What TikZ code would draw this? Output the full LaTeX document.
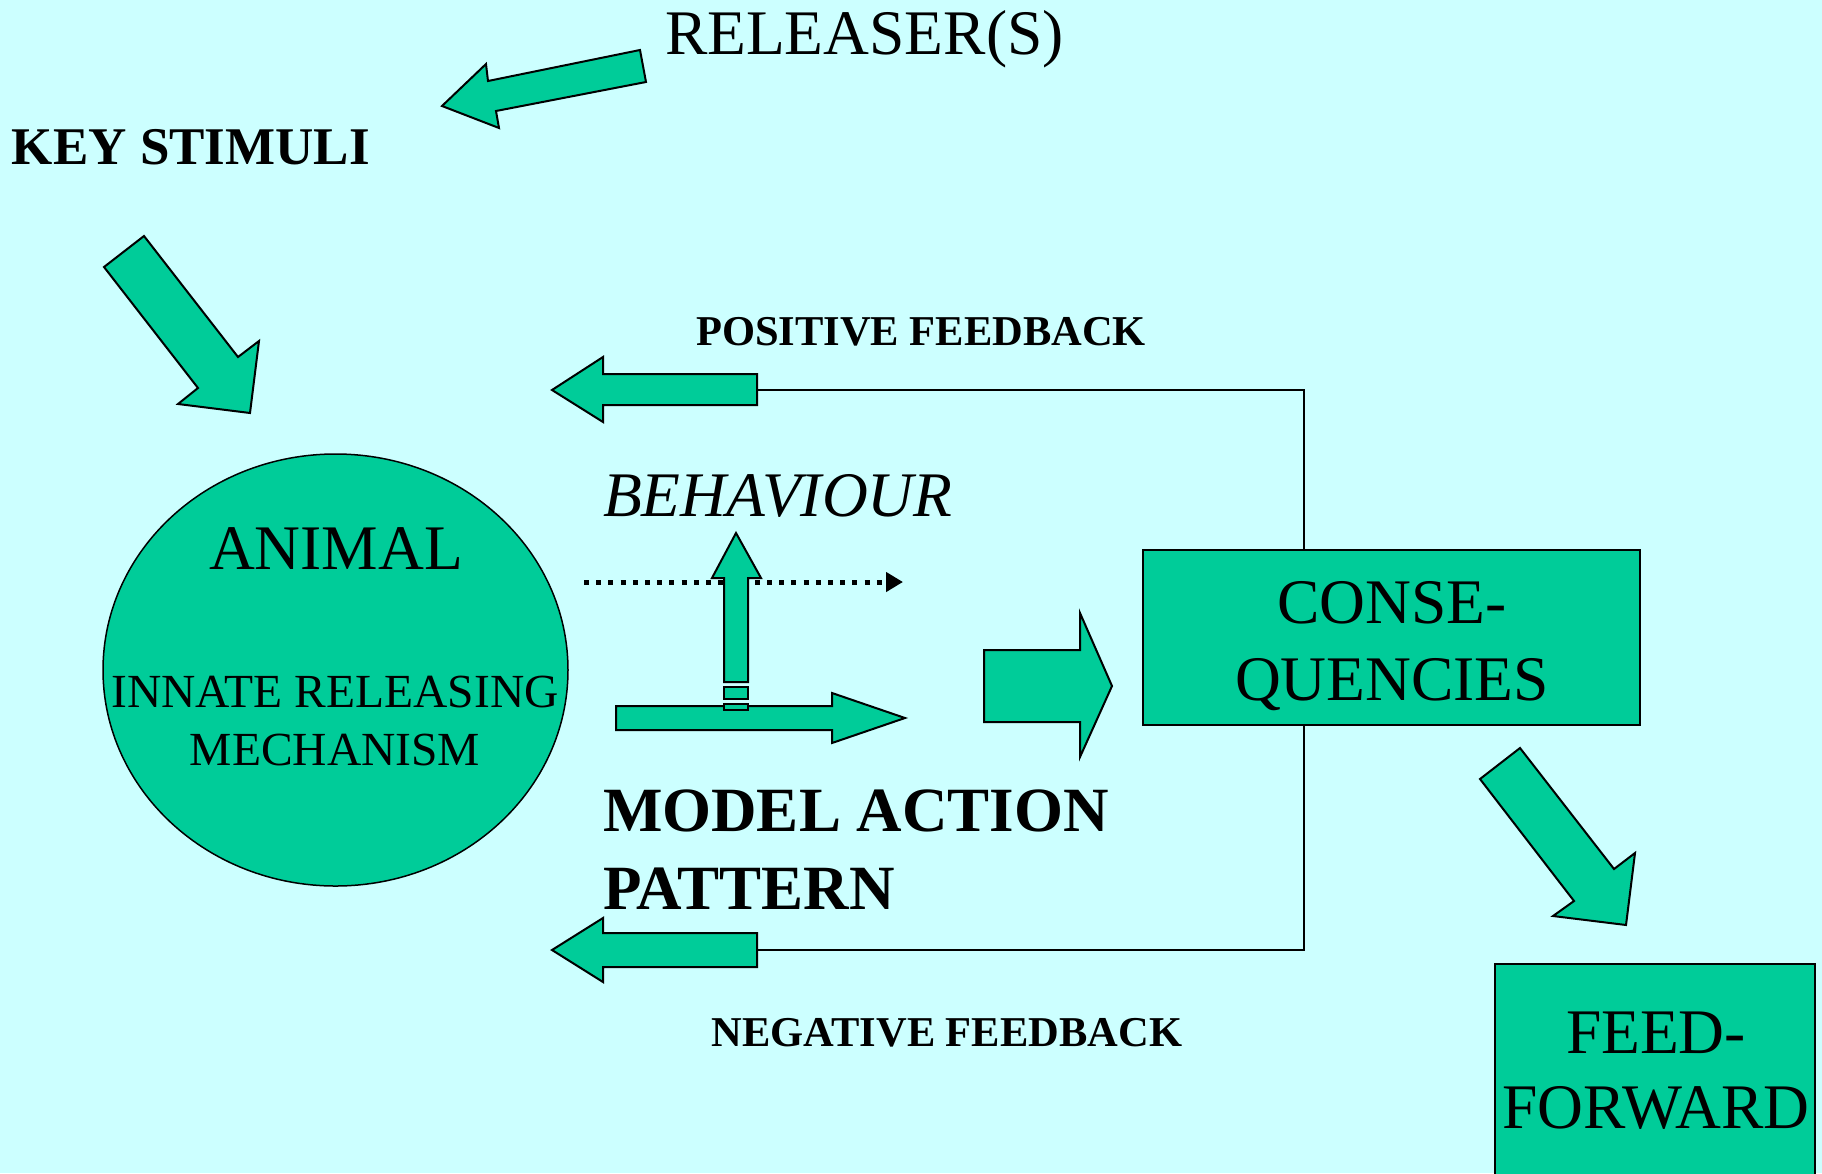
\documentclass[tikz,border=0pt]{standalone}
\usepackage{fontspec}
\setmainfont{Liberation Serif}
\usetikzlibrary{shapes.geometric,arrows.meta}
\definecolor{mint}{RGB}{0,204,153}
\definecolor{skyback}{RGB}{204,255,255}
\tikzset{
  blockarr/.style={draw,line width=2pt,fill=mint,line join=miter},
  loopline/.style={draw,line width=2pt,line join=miter},
  txt/.style={inner sep=0pt,outer sep=0pt},
  bigtxt/.style={txt,font=\fontsize{63.5}{70}\selectfont},
  midtxt/.style={txt,font=\fontsize{47.5}{55}\selectfont},
  fbtxt/.style={txt,font=\fontsize{42.5}{48}\selectfont\bfseries},
  keytxt/.style={txt,font=\fontsize{53}{60}\selectfont\bfseries},
  maptxt/.style={txt,font=\fontsize{63}{70}\selectfont\bfseries},
  behtxt/.style={txt,font=\fontsize{63.5}{70}\selectfont\itshape}
}
\begin{document}
\begin{tikzpicture}[x=1pt,y=-1pt]
    \fill[skyback] (0,0) rectangle (1822,1173);
    \useasboundingbox (0,0) rectangle (1822,1173);

    \node[bigtxt,anchor=base west] (releaser) at (665,54) {RELEASER(S)};
    \node[keytxt,anchor=base west] (keystim) at (12,164) {KEY STIMULI};
    \draw[blockarr] (640,50) -- (488,81) -- (486,64) -- (442,106) -- (499,128) -- (496,111) -- (646,82) -- cycle;
    \draw[blockarr] (144,236) -- (238,357) -- (259,341) -- (250,413) -- (178,404) -- (198,388) -- (104,267) -- cycle;

    \node[ellipse,draw,line width=1.5pt,fill=mint,minimum width=465pt,minimum height=432pt,inner sep=0pt] (animal) at (335.5,670) {};
    \node[bigtxt,anchor=base] (animaltxt) at (336,569) {ANIMAL};
    \node[midtxt,anchor=base] (irm1) at (335,707) {INNATE RELEASING};
    \node[midtxt,anchor=base] (irm2) at (335,765) {MECHANISM};

    \node[fbtxt,anchor=base] (postxt) at (921,345) {POSITIVE FEEDBACK};
    \node[fbtxt,anchor=base] (negtxt) at (947,1046) {NEGATIVE FEEDBACK};
    \coordinate (postail) at (757,390);
    \coordinate (negtail) at (757,950);
    \coordinate (loopx) at (1304,0);
    \draw[blockarr] (757,374) -- (603,374) -- (603,357) -- (552,390) -- (603,422) -- (603,405) -- (757,405) -- cycle;
    \draw[blockarr] (757,933) -- (603,933) -- (603,918) -- (552,950) -- (603,982) -- (603,967) -- (757,967) -- cycle;

    \node[behtxt,anchor=base west] (behav) at (603,516) {BEHAVIOUR};
    \coordinate (dotstart) at (584,582);
    \coordinate (dotend) at (903,582);
    \draw[line width=5pt,dash pattern=on 5pt off 7.2pt,-{Triangle[length=17pt,width=19pt]}] (dotstart) -- (dotend);
    \draw[blockarr] (724,682) -- (724,578) -- (712,578) -- (736,533) -- (761,578) -- (748,578) -- (748,682) -- cycle;
    \draw[blockarr] (616,706) -- (832,706) -- (832,693) -- (905,718) -- (832,743) -- (832,730) -- (616,730) -- cycle;
    \draw[blockarr] (724,687) rectangle (748,699);
    \draw[blockarr] (724,704) rectangle (748,710);

    \node[maptxt,anchor=base west] (map1) at (603,831) {MODEL ACTION};
    \node[maptxt,anchor=base west] (map2) at (603,909) {PATTERN};

    \draw[blockarr] (984,650) -- (1080,650) -- (1080,613) -- (1112,686) -- (1080,757) -- (1080,722) -- (984,722) -- cycle;

    \node[draw,line width=2pt,fill=mint,minimum width=497pt,minimum height=175pt,inner sep=0pt] (conseq) at (1391.5,637.5) {};
    \node[bigtxt,anchor=base] (conseq1) at (1392,623) {CONSE-};
    \node[bigtxt,anchor=base] (conseq2) at (1392,700) {QUENCIES};
    \draw[loopline] (postail) -| (conseq.north -| loopx);
    \draw[loopline] (conseq.south -| loopx) |- (negtail);

    \draw[blockarr] (1520,748) -- (1614,869) -- (1635,853) -- (1626,925) -- (1553,916) -- (1574,901) -- (1480,779) -- cycle;

    \node[draw,line width=2pt,fill=mint,minimum width=320pt,minimum height=230pt,inner sep=0pt] (feedfwd) at (1655,1079) {};
    \node[bigtxt,anchor=base] (feedfwd1) at (1656,1053) {FEED-};
    \node[bigtxt,anchor=base] (feedfwd2) at (1656,1128) {FORWARD};
\end{tikzpicture}
\end{document}
